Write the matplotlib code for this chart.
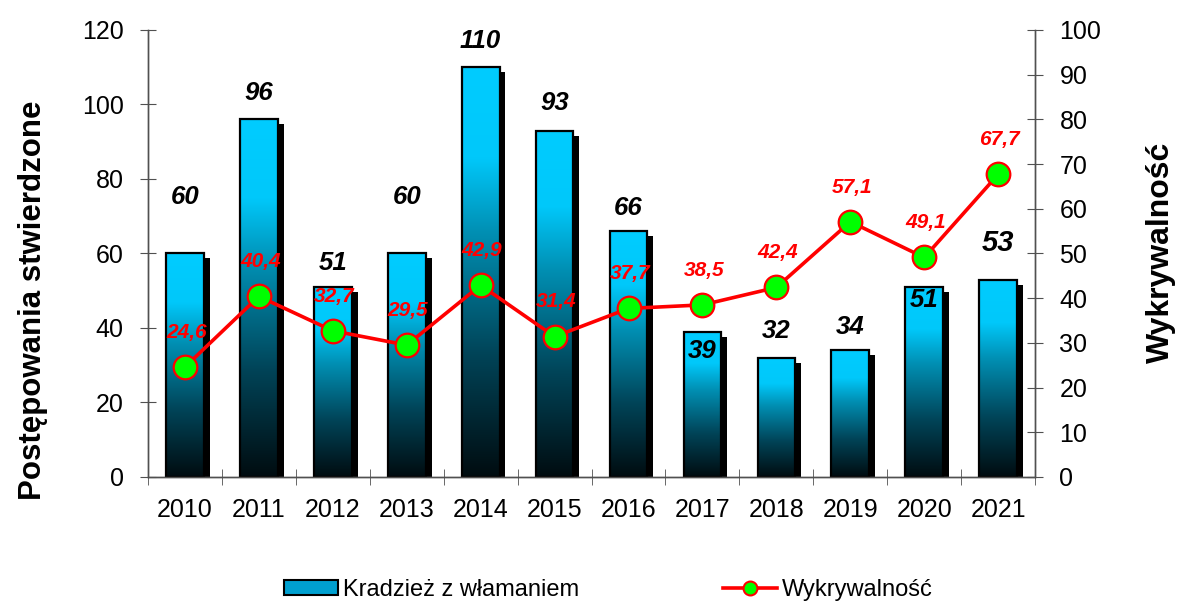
import numpy as np
import matplotlib
matplotlib.use('Agg')
import matplotlib.pyplot as plt
from matplotlib.colors import LinearSegmentedColormap
from matplotlib.patches import Patch
from matplotlib.lines import Line2D
from matplotlib.transforms import offset_copy

years = ['2010', '2011', '2012', '2013', '2014', '2015',
         '2016', '2017', '2018', '2019', '2020', '2021']
cases = [60, 96, 51, 60, 110, 93, 66, 39, 32, 34, 51, 53]
rate = [24.6, 40.4, 32.7, 29.5, 42.9, 31.4, 37.7, 38.5, 42.4, 57.1, 49.1, 67.7]

# label offsets above bar tops (points), just layout
bar_lbl_off = [41, 19, 17, 41, 19, 20, 17, -14, 19, 17, -9, 26]

plt.rcParams['font.family'] = ['Liberation Sans', 'DejaVu Sans']

fig = plt.figure(figsize=(11.79, 6.08), dpi=100)
ax = fig.add_axes([0.1255, 0.2155, 0.7525, 0.7352])
ax2 = ax.twinx()

x = np.arange(len(years))
w = 0.51

grad_cmap = LinearSegmentedColormap.from_list(
    'bargrad', [(0.0, '#000c10'), (0.3, '#004458'), (0.6, '#0090b4'),
                (0.78, '#00c8fa'), (1.0, '#00ccff')])
grad = np.linspace(1, 0, 256).reshape(-1, 1)

# shadows
shadow_tr = offset_copy(ax.transData, fig=fig, x=4.3, y=-3.6, units='points')
ax.bar(x, cases, width=w, color='black', transform=shadow_tr, zorder=1)

# gradient fill per bar
for xi, h in zip(x, cases):
    ax.imshow(grad, extent=(xi - w / 2, xi + w / 2, 0, h), aspect='auto',
              cmap=grad_cmap, vmin=0, vmax=1, zorder=2, interpolation='bilinear')
ax.bar(x, cases, width=w, facecolor='none', edgecolor='black', linewidth=1.6, zorder=3)

for i, (xi, h) in enumerate(zip(x, cases)):
    fs = 18.5 if i < len(cases) - 1 else 21
    ax.annotate(str(h), (xi, h), xytext=(0, bar_lbl_off[i]), textcoords='offset points',
                ha='center', va='center', fontsize=fs, fontweight='bold',
                fontstyle='italic', color='black', zorder=5)

ax.set_xlim(-0.5, len(years) - 0.5)
ax.set_ylim(0, 120)
ax.set_yticks(range(0, 121, 20))

ax2.plot(x, rate, color='#ff0000', linewidth=2.6, marker='o', markersize=17,
         markerfacecolor='#00ff00', markeredgecolor='#ff0000', markeredgewidth=1.6,
         zorder=4)
for xi, r in zip(x, rate):
    ax2.annotate(f'{r:.1f}'.replace('.', ','), (xi, r), xytext=(1, 25),
                 textcoords='offset points', ha='center', va='center',
                 fontsize=15, fontweight='bold', fontstyle='italic', color='#ff0000')
ax2.set_ylim(0, 100)
ax2.set_yticks(range(0, 101, 10))

for a in (ax, ax2):
    a.spines['top'].set_visible(False)
    for s in ('left', 'right', 'bottom'):
        a.spines[s].set_color('#505050')
        a.spines[s].set_linewidth(1.0)

ax.set_xticks(x)
ax.set_xticklabels(years)
ax.set_xticks(np.arange(-0.5, len(years), 1.0), minor=True)
ax.tick_params(axis='x', which='major', length=0, pad=15, labelsize=18)
ax.tick_params(axis='x', which='minor', direction='inout', length=11, color='#505050')
ax.tick_params(axis='y', direction='inout', length=11, color='#505050', pad=12, labelsize=18)
ax2.tick_params(axis='y', direction='inout', length=11, color='#505050', pad=12, labelsize=18)

fig.text(33 / 1179, 1 - 300 / 608, 'Postępowania stwierdzone', rotation=90,
         ha='center', va='center', fontsize=22.5, fontweight='bold')
fig.text(1161 / 1179, 1 - 252 / 608, 'Wykrywalność', rotation=90,
         ha='center', va='center', fontsize=23, fontweight='bold')

handles = [Patch(facecolor='#00a0d0', edgecolor='black', linewidth=1.5),
           Line2D([0], [0], color='#ff0000', linewidth=2.6, marker='o', markersize=10,
                  markerfacecolor='#00ff00', markeredgecolor='#ff0000', markeredgewidth=1.5)]
fig.legend(handles, ['Kradzież z włamaniem', 'Wykrywalność'], loc='center',
           bbox_to_anchor=(0.516, 0.03), ncol=2, frameon=False, fontsize=17,
           handlelength=2.3, handleheight=0.55, columnspacing=6.1, handletextpad=0.2)

fig.savefig('out.png', dpi=100)
